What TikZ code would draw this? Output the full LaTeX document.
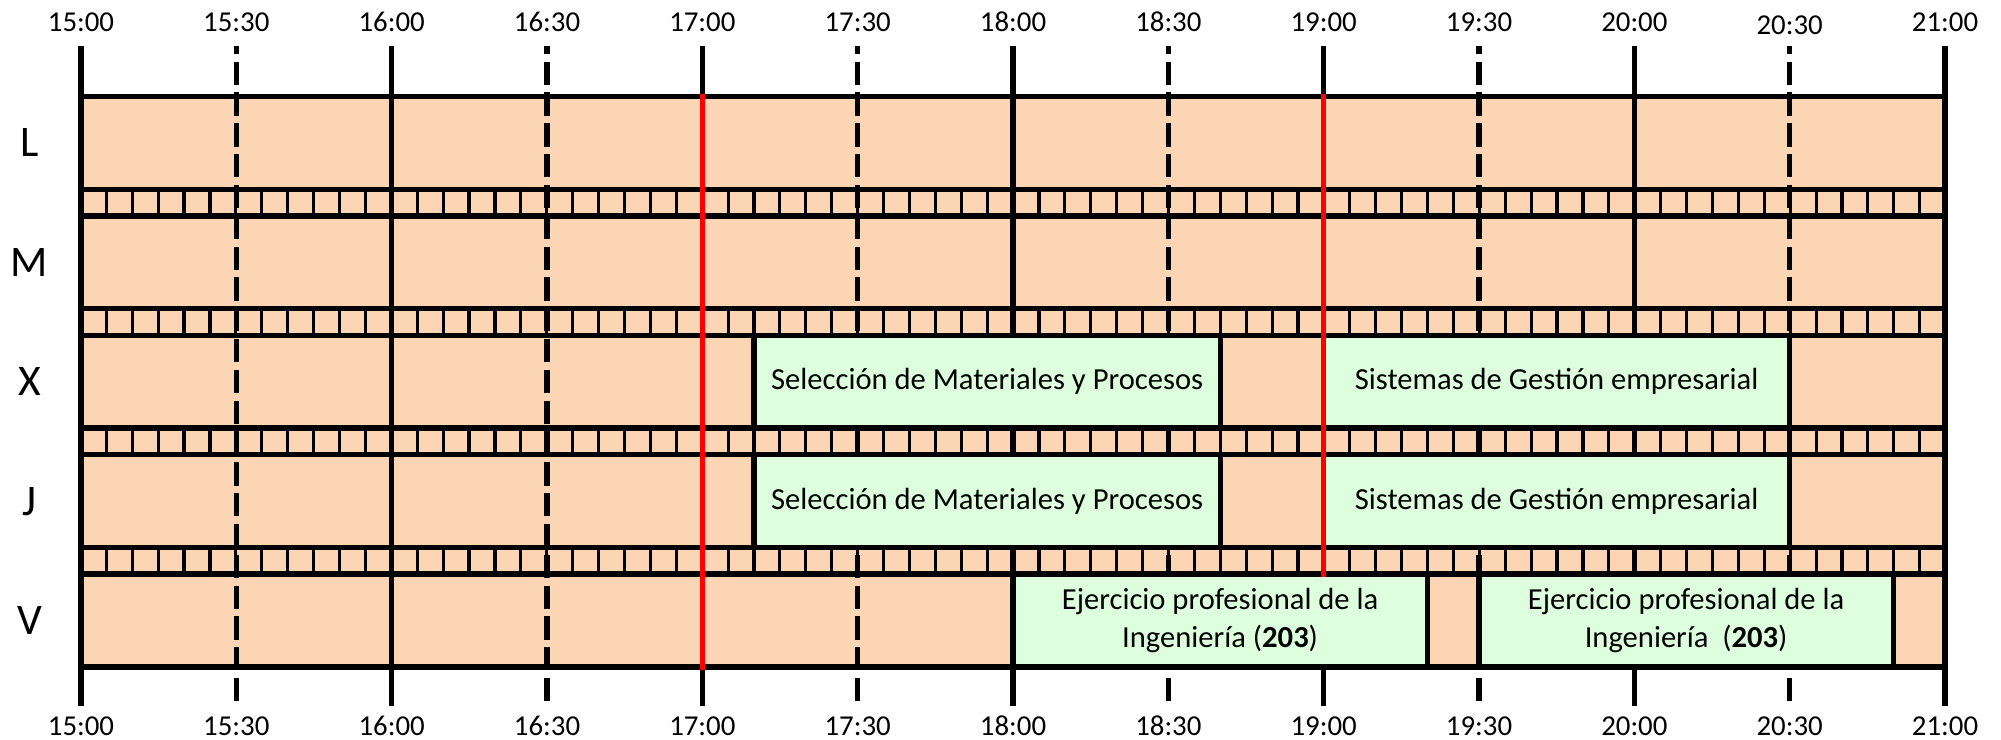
\documentclass[tikz,border=0pt]{standalone}
\usepackage{fontspec}
\setmainfont{Carlito}
\usetikzlibrary{positioning}
\definecolor{peach}{HTML}{FCD5B4}
\definecolor{mint}{HTML}{DDFFDD}

\begin{document}
\begin{tikzpicture}[x=0.01cm, y=-0.01cm, line width=1.5pt,
    dayrow/.style={shape=rectangle, draw=black, inner sep=0pt, outer sep=0pt, minimum width=18.64cm, minimum height=0.928cm},
    course/.style={shape=rectangle, draw=black, fill=mint, inner sep=0pt, minimum height=0.928cm, align=center, font=\fontsize{8.7}{10.9}\selectfont},
    daylabel/.style={anchor=base, font=\fontsize{12.4}{14}\selectfont},
    timelabel/.style={anchor=base, font=\fontsize{8.2}{10}\selectfont},
    hourline/.style={draw=black},
    halfline/.style={draw=black, dash pattern=on 0.233cm off 0.075cm, dash phase=0.152cm},
    celldiv/.style={draw=black, line width=0.9pt},
    nowline/.style={draw=red, line cap=rect}]
      \useasboundingbox (0,0) rectangle (2001,740);

      \node[shape=rectangle, fill=peach, inner sep=0pt, outer sep=0pt, minimum width=18.64cm, minimum height=5.7cm] (grid) 
           at (1013,381.7) {};
      \node[dayrow] (L) [below = 0cm of grid.north] {};
      \node[dayrow] (M) [below = 0.265cm of L] {};
      \node[dayrow] (X) [below = 0.265cm of M] {};
      \node[dayrow] (J) [below = 0.265cm of X] {};
      \node[dayrow] (V) [below = 0.265cm of J] {};

      \foreach \d in {L,M,X,J,V}
        \node[daylabel] (lbl\d) at ([xshift=-0.51cm, yshift=-0.14cm]\d.west) {\d};

      \foreach \a/\b in {L/M,M/X,X/J,J/V}
        \foreach \m in {1,...,71}
          \draw[celldiv] ([xshift=\m*0.258889cm]\a.south west) -- ([xshift=\m*0.258889cm]\b.north west);

      \foreach \t/\dy [count=\k from 0] in {15:00/0,15:30/0,16:00/0,16:30/0,17:00/0,17:30/0,18:00/0,
                                            18:30/0,19:00/0,19:30/0,20:00/0,20:30/3,21:00/0} {
        \node[timelabel] (top\k) at ({81+155.333*\k},{31.2+\dy}) {\t};
        \node[timelabel] (bot\k) at ({81+155.333*\k},735) {\t};
        \coordinate (up\k) at ({81+155.333*\k},46);
        \coordinate (dn\k) at ({81+155.333*\k},705.7);
      }

      \foreach \k in {0,2,...,12}
        \draw[hourline] (up\k) -- (dn\k);
      \foreach \k in {1,3,...,11}
        \draw[halfline] (up\k) -- (dn\k);

      \node[course, minimum width=4.66cm] (selX) at (987.1,0 |- X) {Selección de Materiales y Procesos};
      \node[course, minimum width=4.66cm] (sisX) at (1556.6,0 |- X) {Sistemas de Gestión empresarial};
      \node[course, minimum width=4.66cm] (selJ) at (987.1,0 |- J) {Selección de Materiales y Procesos};
      \node[course, minimum width=4.66cm] (sisJ) at (1556.6,0 |- J) {Sistemas de Gestión empresarial};
      \node[course, minimum width=4.142cm] (ejeA) at (1220.1,0 |- V) {Ejercicio profesional de la\\Ingeniería (\textbf{203})};
      \node[course, minimum width=4.142cm] (ejeB) at (1686.1,0 |- V) {Ejercicio profesional de la\\Ingeniería\ \ (\textbf{203})};

      \draw[nowline] (up4 |- L.north) -- (up4 |- V.south);
      \draw[nowline] (up8 |- L.north) -- (up8 |- V.north);
  \end{tikzpicture}
\end{document}
